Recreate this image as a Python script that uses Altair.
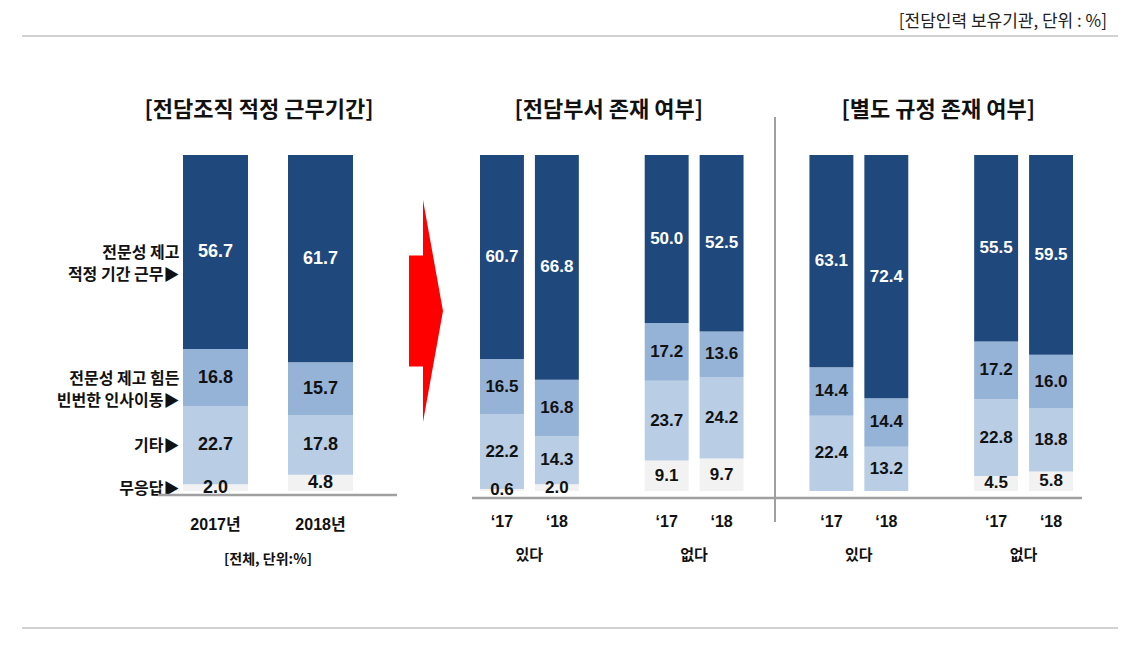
import altair as alt
import pandas as pd

# ---------------- data ----------------
categories = ["무응답", "기타", "전문성 제고 힘든 빈번한 인사이동", "전문성 제고 적정 기간 근무"]
category_labels = ["무응답▶", "기타▶", "전문성 제고 힘든\n빈번한 인사이동▶", "전문성 제고\n적정 기간 근무▶"]
colors = ["#F2F2F2", "#B9CDE5", "#95B3D7", "#1F497D"]

left_title = "[전담조직 적정 근무기간]"
left_note = "[전체, 단위:%]"
left_bars = ["2017년", "2018년"]
left_2017 = [2.0, 22.7, 16.8, 56.7]
left_2018 = [4.8, 17.8, 15.7, 61.7]

year_labels = ["‘17", "‘18"]
right_groups = ["부서 있다", "부서 없다", "규정 있다", "규정 없다"]
group_names = ["있다", "없다", "있다", "없다"]
panel_titles = ["[전담부서 존재 여부]", "[별도 규정 존재 여부]"]
dept_yes_17 = [0.6, 22.2, 16.5, 60.7]
dept_yes_18 = [2.0, 14.3, 16.8, 66.8]
dept_no_17 = [9.1, 23.7, 17.2, 50.0]
dept_no_18 = [9.7, 24.2, 13.6, 52.5]
rule_yes_17 = [None, 22.4, 14.4, 63.1]
rule_yes_18 = [None, 13.2, 14.4, 72.4]
rule_no_17 = [4.5, 22.8, 17.2, 55.5]
rule_no_18 = [5.8, 18.8, 16.0, 59.5]

unit_note = "[전담인력 보유기관, 단위 : %]"

# ---------------- tables ----------------
left_rows = []
for bar, vals in zip(left_bars, [left_2017, left_2018]):
    for i, (c, v) in enumerate(zip(categories, vals)):
        left_rows.append({"bar": bar, "cat": c, "order": i, "value": v,
                          "catlabel": category_labels[i]})
left_df = pd.DataFrame(left_rows)

right_values = [[dept_yes_17, dept_yes_18], [dept_no_17, dept_no_18],
                [rule_yes_17, rule_yes_18], [rule_no_17, rule_no_18]]
right_slots = []
for gi, g in enumerate(right_groups):
    if gi > 0:
        right_slots.append(f"gap{gi}")
    for y in year_labels:
        right_slots.append(f"{g} {y}")

right_rows = []
for g, pair in zip(right_groups, right_values):
    for y, vals in zip(year_labels, pair):
        for i, (c, v) in enumerate(zip(categories, vals)):
            if v is None:
                continue
            right_rows.append({"slot": f"{g} {y}", "cat": c, "order": i, "value": v})
right_df = pd.DataFrame(right_rows)

right_year_df = pd.DataFrame([{"slot": f"{g} {y}", "label": y}
                              for g in right_groups for y in year_labels])
right_group_df = pd.DataFrame([{"slot": f"{g} {year_labels[1]}", "label": n}
                               for g, n in zip(right_groups, group_names)])
right_title_df = pd.DataFrame([{"slot": "gap1", "label": panel_titles[0]},
                               {"slot": "gap3", "label": panel_titles[1]}])
left_label_df = pd.DataFrame({"bar": left_bars})
one = pd.DataFrame({"a": [0]})

# ---------------- scales ----------------
KFONT = "'Noto Sans CJK KR', sans-serif"
NFONT = "'Liberation Sans', 'Noto Sans CJK KR', sans-serif"

xL = alt.Scale(type="band", domain=left_bars, range=[175, 345], paddingInner=0.381, paddingOuter=0)
xR = alt.Scale(type="band", domain=right_slots, range=[472, 1065], paddingInner=0.2, paddingOuter=0)
yS = alt.Scale(domain=[0, 1], range=[483, 147])
col = alt.Scale(domain=categories, range=colors)


def stacked(df, key):
    return (alt.Chart(df)
            .transform_stack(stack="value", groupby=[key], as_=["y0", "y1"],
                             offset="normalize", sort=[alt.SortField("order", order="ascending")])
            .transform_calculate(mid="(datum.y0 + datum.y1) / 2"))


def panel(df, key, xs, fsize):
    base = stacked(df, key)
    bars = base.mark_bar().encode(
        x=alt.X(f"{key}:N", scale=xs, axis=None),
        y=alt.Y("y0:Q", scale=yS, axis=None),
        y2="y1:Q",
        color=alt.Color("cat:N", scale=col, legend=None),
    )
    txt_dark = base.transform_filter("datum.order < 3").mark_text(
        font=NFONT, fontSize=fsize, fontWeight="bold", color="#111111"
    ).encode(
        x=alt.X(f"{key}:N", scale=xs, axis=None),
        y=alt.Y("mid:Q", scale=yS, axis=None),
        text=alt.Text("value:Q", format=".1f"),
    )
    txt_light = base.transform_filter("datum.order == 3").mark_text(
        font=NFONT, fontSize=fsize, fontWeight="bold", color="#ffffff"
    ).encode(
        x=alt.X(f"{key}:N", scale=xs, axis=None),
        y=alt.Y("mid:Q", scale=yS, axis=None),
        text=alt.Text("value:Q", format=".1f"),
    )
    return [bars, txt_dark, txt_light]


layers = []
layers += panel(left_df, "bar", xL, 18)
layers += panel(right_df, "slot", xR, 17)

# category labels left of the 2017 bar (offset from the bar centre)
layers.append(
    stacked(left_df, "bar").transform_filter(f"datum.bar == '{left_bars[0]}'")
    .mark_text(font=KFONT, fontSize=16, fontWeight="bold", color="#111111",
               align="right", baseline="bottom", lineBreak="\n", lineHeight=22, dx=-36, dy=9)
    .encode(x=alt.X("bar:N", scale=xL, axis=None),
            y=alt.Y("mid:Q", scale=yS, axis=None),
            text="catlabel:N")
)

# left x labels, note and title
layers.append(
    alt.Chart(left_label_df).mark_text(font=NFONT, fontSize=16, fontWeight="bold", color="#111111")
    .encode(x=alt.X("bar:N", scale=xL, axis=None), y=alt.value(517), text="bar:N")
)
layers.append(
    alt.Chart(pd.DataFrame({"bar": [left_bars[1]], "label": [left_note]}))
    .mark_text(font=KFONT, fontSize=14, fontWeight="bold", color="#111111", dx=-52.5)
    .encode(x=alt.X("bar:N", scale=xL, axis=None), y=alt.value(552), text="label:N")
)
layers.append(
    alt.Chart(pd.DataFrame({"bar": [left_bars[1]], "label": [left_title]}))
    .mark_text(font=KFONT, fontSize=22, fontWeight="bold", color="#111111", dx=-61.5)
    .encode(x=alt.X("bar:N", scale=xL, axis=None), y=alt.value(102), text="label:N")
)

# right labels
layers.append(
    alt.Chart(right_year_df).mark_text(font=NFONT, fontSize=16, fontWeight="bold", color="#111111")
    .encode(x=alt.X("slot:N", scale=xR, axis=None), y=alt.value(514), text="label:N")
)
layers.append(
    alt.Chart(right_group_df).mark_text(font=KFONT, fontSize=15, fontWeight="bold", color="#111111", dx=-27.5)
    .encode(x=alt.X("slot:N", scale=xR, axis=None), y=alt.value(547), text="label:N")
)
layers.append(
    alt.Chart(right_title_df).mark_text(font=KFONT, fontSize=22, fontWeight="bold", color="#111111", dx=-3)
    .encode(x=alt.X("slot:N", scale=xR, axis=None), y=alt.value(102), text="label:N")
)

# decorations
def rule(x1, x2, y1, y2, color, w):
    return alt.Chart(one).mark_rule(color=color, strokeWidth=w).encode(
        x=alt.value(x1), x2=alt.value(x2), y=alt.value(y1), y2=alt.value(y2))

layers.append(rule(14, 1110, 28, 28, "#a6a6a6", 1))
layers.append(rule(14, 1110, 620, 620, "#a6a6a6", 1))
layers.append(rule(150, 389, 487, 487, "#a0a0a0", 2.5))
layers.append(rule(464, 1074, 490, 490, "#a0a0a0", 2.5))
layers.append(rule(767, 767, 109, 514, "#a0a0a0", 2))

arrow_path = "M-0.153,-0.5 L-0.027,-0.5 L-0.027,-1 L0.153,0 L-0.027,1 L-0.027,0.5 L-0.153,0.5 Z"
layers.append(
    alt.Chart(one).mark_point(shape=arrow_path, filled=True, fill="#FF0000",
                              opacity=1, size=49284)
    .encode(x=alt.value(418), y=alt.value(303))
)

layers.append(
    alt.Chart(one).mark_text(text=unit_note, font=KFONT, fontSize=17, color="#222222",
                             align="right", baseline="middle")
    .encode(x=alt.value(1099), y=alt.value(14))
)

chart = (
    alt.layer(*layers)
    .resolve_scale(x="independent", y="independent")
    .properties(width=1112, height=630, autosize=alt.AutoSizeParams(type="none"), padding=0)
    .configure_view(stroke=None)
)

chart.save("out.html", embed_options={"renderer": "svg", "actions": False})
